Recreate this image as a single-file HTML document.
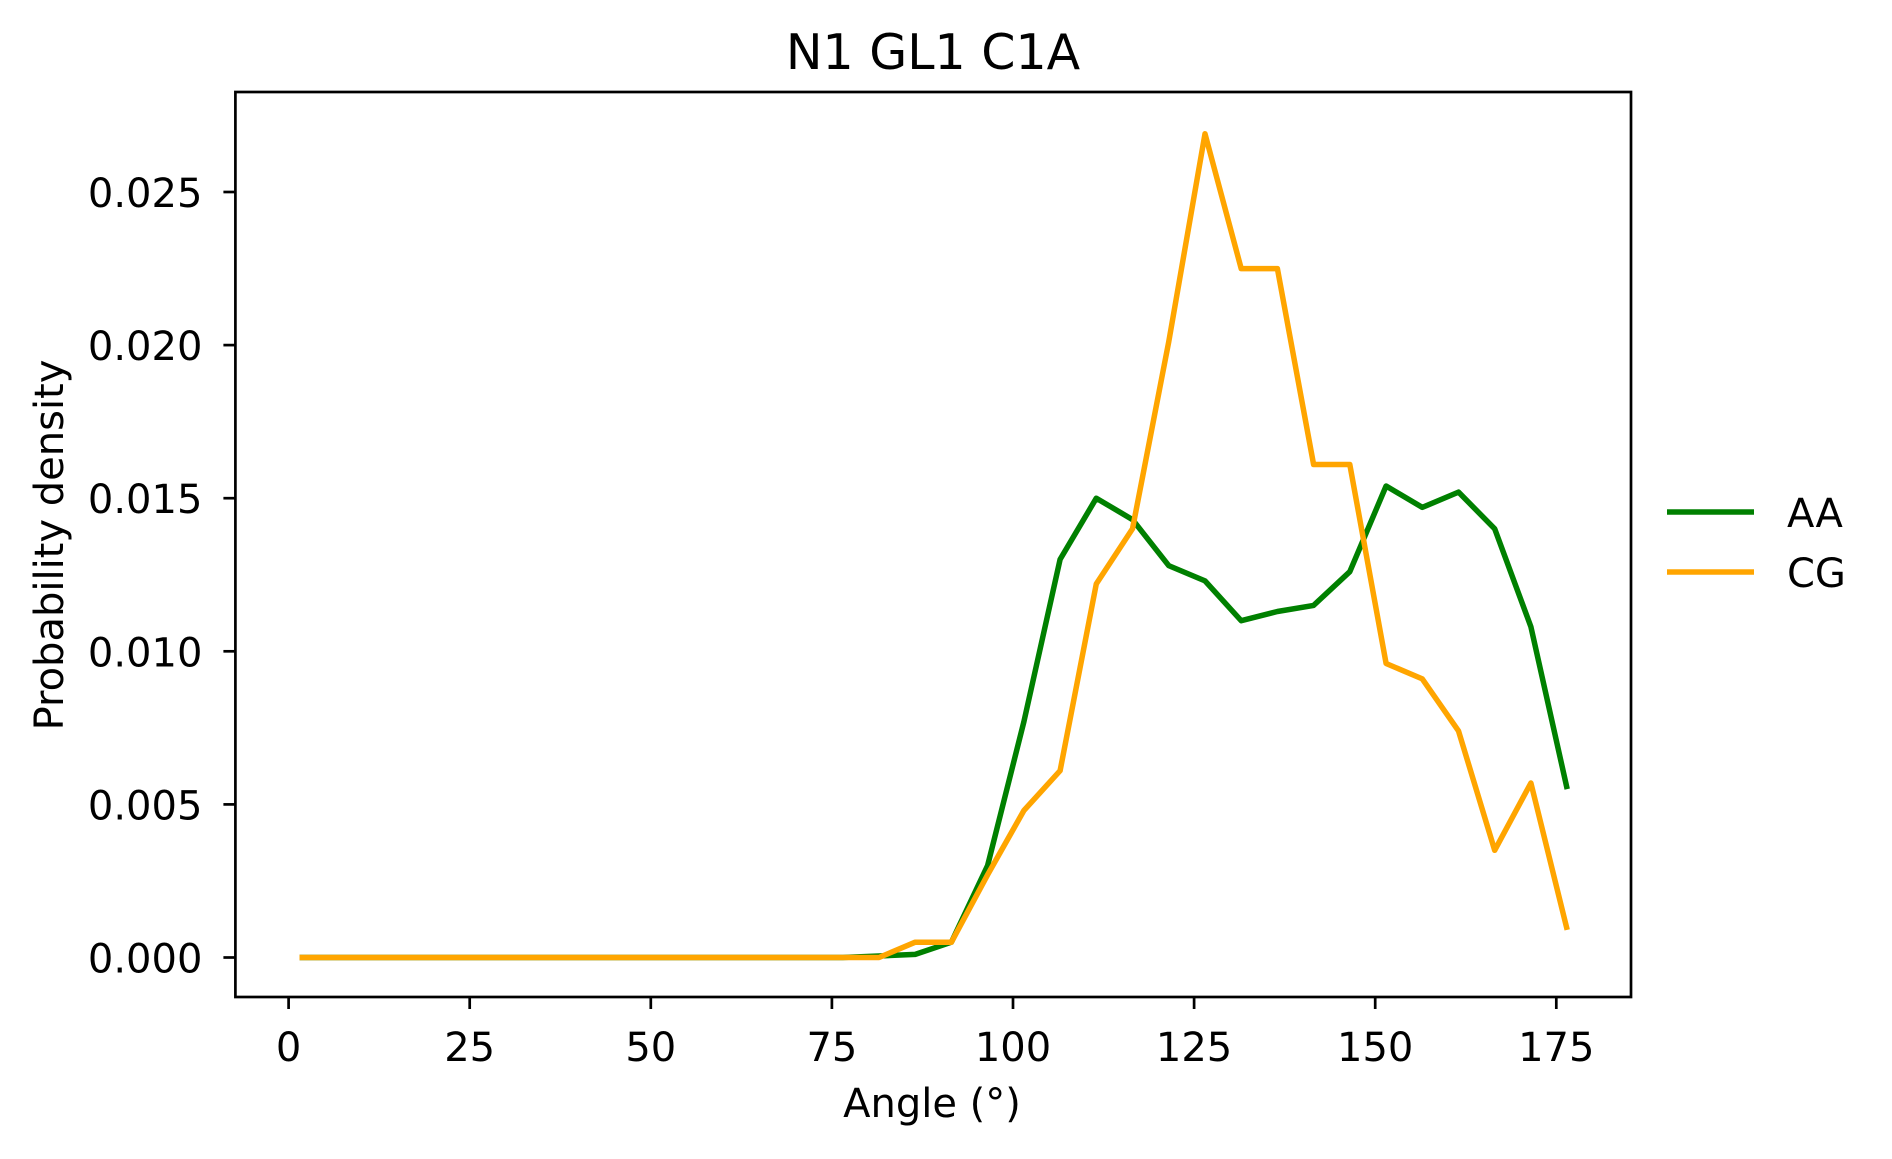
<!DOCTYPE html>
<html><head><meta charset="utf-8"><style>
html,body{margin:0;padding:0;background:#fff;}
svg text{font-family:"DejaVu Sans","Liberation Sans",sans-serif;fill:#000;}
</style></head><body>
<svg id="chart" width="1892" height="1154" viewBox="0 0 1892 1154" xmlns="http://www.w3.org/2000/svg">
<rect width="1892" height="1154" fill="#fff"/>
<text x="933" y="69" font-size="49" text-anchor="middle">N1 GL1 C1A</text>
<g id="plot"></g>
<text x="932" y="1117" font-size="40" text-anchor="middle">Angle (°)</text>
<text transform="translate(63,545) rotate(-90)" font-size="40" text-anchor="middle">Probability density</text>
<g>
<line x1="1667" y1="512" x2="1754" y2="512" stroke="#008000" stroke-width="5.5"/>
<text x="1787" y="527" font-size="40">AA</text>
<line x1="1667" y1="572" x2="1754" y2="572" stroke="#ffa500" stroke-width="5.5"/>
<text x="1787" y="587" font-size="40">CG</text>
</g>
</svg>
<script>
const angles = [1.5,6.5,11.5,16.5,21.5,26.5,31.5,36.5,41.5,46.5,51.5,56.5,61.5,66.5,71.5,76.5,81.5,86.5,91.5,96.5,101.5,106.5,111.5,116.5,121.5,126.5,131.5,136.5,141.5,146.5,151.5,156.5,161.5,166.5,171.5,176.5];
const aaValues = [0,0,0,0,0,0,0,0,0,0,0,0,0,0,0,0,0.00005,0.0001,0.0005,0.003,0.0077,0.013,0.015,0.0143,0.0128,0.0123,0.011,0.0113,0.0115,0.0126,0.0154,0.0147,0.0152,0.014,0.0108,0.0055];
const cgValues = [0,0,0,0,0,0,0,0,0,0,0,0,0,0,0,0,0,0.0005,0.0005,0.0027,0.0048,0.0061,0.0122,0.014,0.0201,0.0269,0.0225,0.0225,0.0161,0.0161,0.0096,0.0091,0.0074,0.0035,0.0057,0.0009];
const xTicks = [0,25,50,75,100,125,150,175];
const yTicks = [0,0.005,0.01,0.015,0.02,0.025];
const yTickLabels = ["0.000","0.005","0.010","0.015","0.020","0.025"];

const L=235.4,R=1631,T=92,B=997;
function xs(v){return 288.6+(v/175)*(1556.3-288.6);}
function ys(v){return 957.5-(v/0.025)*(957.5-192);}
const NS='http://www.w3.org/2000/svg';
const g=document.getElementById('plot');
function mk(t,a){const e=document.createElementNS(NS,t);for(const k in a)e.setAttribute(k,a[k]);g.appendChild(e);return e;}

function series(vals,color,name){
  const d=vals.map((v,i)=>(i?'L':'M')+xs(angles[i]).toFixed(1)+' '+ys(v).toFixed(1)).join(' ');
  const p=mk('path',{d:d,fill:'none',stroke:color,'stroke-width':5.5,'stroke-linejoin':'round'});
  
  
}
series(aaValues,'#008000','series-aa');
series(cgValues,'#ffa500','series-cg');

const frame=mk('rect',{x:L,y:T,width:R-L,height:B-T,fill:'none',stroke:'#000','stroke-width':2.7});



xTicks.forEach(v=>{
  const x=xs(v);
  const tk=mk('line',{x1:x,y1:B,x2:x,y2:B+12,stroke:'#000','stroke-width':2.7});
  
  
  const t=mk('text',{x:x,y:1061,'font-size':40,'text-anchor':'middle'});
  t.textContent=String(v);
  
  
});
yTicks.forEach((v,i)=>{
  const y=ys(v);
  const tk=mk('line',{x1:L-12,y1:y,x2:L,y2:y,stroke:'#000','stroke-width':2.7});
  
  
  const t=mk('text',{x:L-33,y:y+15,'font-size':40,'text-anchor':'end'});
  t.textContent=yTickLabels[i];
  
  
});
</script>
</body></html>
